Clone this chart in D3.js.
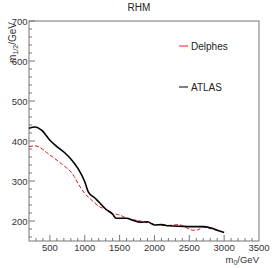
<!DOCTYPE html>
<html>
<head>
<meta charset="utf-8">
<script src="https://cdn.jsdelivr.net/npm/d3@7"></script>
<style>
  body { margin: 0; background: #fff; }
  text { font-family: "Liberation Sans", Arial, sans-serif; }
</style>
</head>
<body>
<div id="chart"></div>
<script>
var width = 279, height = 269;
var margin = { top: 21, right: 20, bottom: 28, left: 29 };

var atlasM0 = [200, 286, 380, 500, 600, 716, 800, 900, 1000, 1050, 1150, 1200, 1300, 1400, 1450, 1600, 1700, 1800, 1900, 2000, 2100, 2200, 2500, 2700, 2800, 2900, 3000];
var atlasM12 = [432, 435, 427, 402, 386, 370, 355, 332, 298, 273, 257, 248, 230, 217, 207, 207, 201, 197, 198, 190, 191, 188, 186, 186, 183, 177, 171];
var delphesM0 = [200, 286, 500, 700, 800, 850, 900, 1000, 1100, 1200, 1300, 1400, 1500, 1600, 1800, 2000, 2200, 2350, 2450, 2550, 2620, 2700, 2800, 2900];
var delphesM12 = [386, 388, 365, 338, 323, 311, 295, 269, 252, 237, 229, 219, 215, 207, 200, 192, 189, 191, 184, 177, 178, 185, 181, 176];
var xTicks = [500, 1000, 1500, 2000, 2500, 3000, 3500];
var yTicks = [200, 300, 400, 500, 600, 700];

var svg = d3.select("#chart").append("svg")
  .attr("width", width)
  .attr("height", height);

var x = d3.scaleLinear().domain([200, 3500]).range([margin.left, width - margin.right]);
var y = d3.scaleLinear().domain([150, 700]).range([height - margin.bottom, margin.top]);

// frame
svg.append("rect")
  .attr("x", x(200)).attr("y", y(700))
  .attr("width", x(3500) - x(200)).attr("height", y(150) - y(700))
  .attr("fill", "none").attr("stroke", "#777").attr("stroke-width", 1);

// x ticks, ROOT style (inside)
var xMinor = d3.range(300, 3500, 100);
svg.append("g").selectAll("line").data(xMinor).enter().append("line")
  .attr("x1", function(d) { return x(d); }).attr("x2", function(d) { return x(d); })
  .attr("y1", y(150)).attr("y2", function(d) { return y(150) - (d % 500 == 0 ? 6 : 3); })
  .attr("stroke", "#777");
svg.append("g").selectAll("text").data(xTicks).enter().append("text")
  .attr("x", function(d) { return x(d); })
  .attr("y", y(150) + 10)
  .attr("text-anchor", "middle")
  .style("font-size", "9.5px").attr("fill", "#333")
  .text(function(d) { return d; });

// y ticks
var yMinor = d3.range(160, 701, 20);
svg.append("g").selectAll("line").data(yMinor).enter().append("line")
  .attr("x1", x(200)).attr("x2", function(d) { return x(200) + (d % 100 == 0 ? 6 : 3); })
  .attr("y1", function(d) { return y(d); }).attr("y2", function(d) { return y(d); })
  .attr("stroke", "#777");
svg.append("g").selectAll("text").data(yTicks).enter().append("text")
  .attr("x", x(200) - 1.5)
  .attr("y", function(d) { return y(d) + 3.5; })
  .attr("text-anchor", "end")
  .style("font-size", "9.5px").attr("fill", "#333")
  .text(function(d) { return d; });

// title + axis labels
svg.append("text")
  .attr("x", 139).attr("y", 11)
  .attr("text-anchor", "middle")
  .style("font-size", "10px").attr("fill", "#222")
  .text("RHM");

var xl = svg.append("text")
  .attr("x", x(3500)).attr("y", height - 6.5)
  .attr("text-anchor", "end")
  .style("font-size", "9.5px").attr("fill", "#333");
xl.append("tspan").text("m");
xl.append("tspan").attr("dy", 2.5).style("font-size", "7px").text("0");
xl.append("tspan").attr("dy", -2.5).text("/GeV");

var yl = svg.append("text")
  .attr("transform", "translate(15.5," + (y(700) + 1) + ") rotate(-90)")
  .attr("text-anchor", "end")
  .style("font-size", "10px").attr("fill", "#333");
yl.append("tspan").text("m");
yl.append("tspan").attr("dy", 2.5).style("font-size", "7px").text("1/2");
yl.append("tspan").attr("dy", -2.5).text("/GeV");

// curves
var line = d3.line().curve(d3.curveMonotoneX);

svg.append("path")
  .datum(delphesM0.map(function(d, i) { return [x(d), y(delphesM12[i])]; }))
  .attr("d", line)
  .attr("fill", "none").attr("stroke", "#e8141c")
  .attr("stroke-width", 1).attr("stroke-dasharray", "4,2");

svg.append("path")
  .datum(atlasM0.map(function(d, i) { return [x(d), y(atlasM12[i])]; }))
  .attr("d", line)
  .attr("fill", "none").attr("stroke", "#000")
  .attr("stroke-width", 1.6);

// legend
var legend = [{ label: "Delphes", color: "#f26d6d", y: 46 }, { label: "ATLAS", color: "#555", y: 87 }];
var lg = svg.selectAll(".lg").data(legend).enter().append("g");
lg.append("line")
  .attr("x1", 179).attr("x2", 188)
  .attr("y1", function(d) { return d.y; }).attr("y2", function(d) { return d.y; })
  .attr("stroke", function(d) { return d.color; }).attr("stroke-width", 1.5);
lg.append("text")
  .attr("x", 191).attr("y", function(d) { return d.y + 3.5; })
  .style("font-size", "10px").attr("fill", "#222")
  .text(function(d) { return d.label; });
</script>
</body>
</html>
